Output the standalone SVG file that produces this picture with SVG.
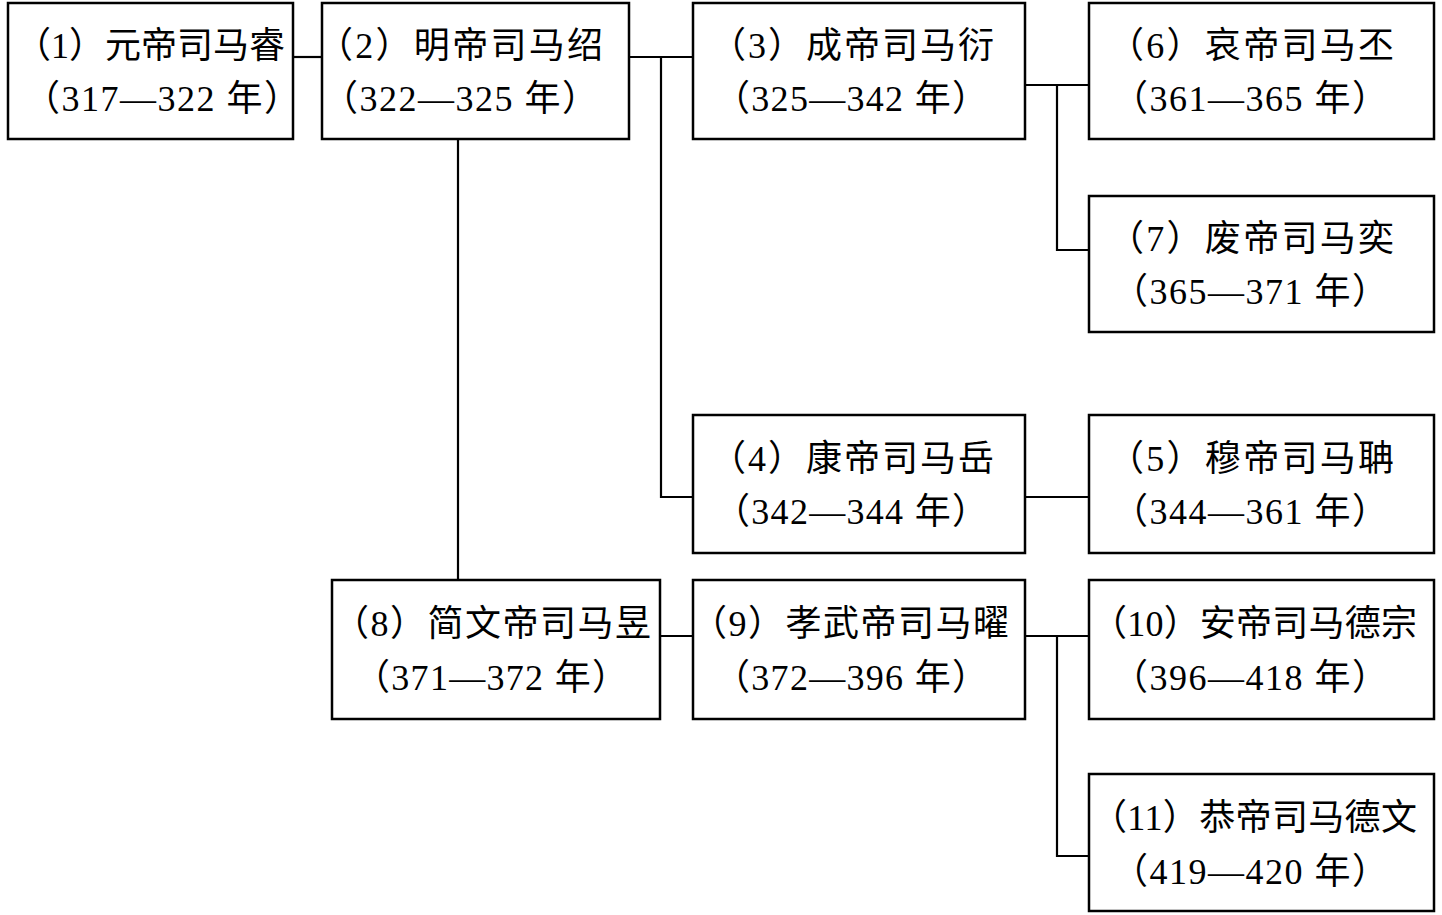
<svg xmlns="http://www.w3.org/2000/svg" width="1442" height="915" viewBox="0 0 1442 915">
<style>
.box{fill:#fff;stroke:#000;stroke-width:2.5}
.ln{fill:none;stroke:#000;stroke-width:2.2}
text{font-family:"Liberation Serif","Noto Sans CJK SC",serif;font-size:36px;fill:#000;text-anchor:middle}
</style>
<rect width="1442" height="915" fill="#fff"/>
<g id="connectors">
<path class="ln" d="M293 57H322"/>
<path class="ln" d="M629 57H693M661 57V497H693"/>
<path class="ln" d="M458 139V580"/>
<path class="ln" d="M1025 85H1089M1057 85V250H1089"/>
<path class="ln" d="M1025 497H1089"/>
<path class="ln" d="M660 636H693"/>
<path class="ln" d="M1025 636H1089M1057 636V856H1089"/>
</g>
<g id="n1"><rect class="box" x="8" y="3" width="285" height="136"/><text x="150" y="58" textLength="270" lengthAdjust="spacing">（1）元帝司马睿</text><text x="162" y="111" textLength="276" lengthAdjust="spacing">（317—322 年）</text></g>
<g id="n2"><rect class="box" x="322" y="3" width="307" height="136"/><text x="460" y="58" textLength="286" lengthAdjust="spacing">（2）明帝司马绍</text><text x="460" y="111" textLength="276" lengthAdjust="spacing">（322—325 年）</text></g>
<g id="n3"><rect class="box" x="693" y="3" width="332" height="136"/><text x="852" y="58" textLength="284" lengthAdjust="spacing">（3）成帝司马衍</text><text x="851" y="111" textLength="274" lengthAdjust="spacing">（325—342 年）</text></g>
<g id="n6"><rect class="box" x="1089" y="3" width="345" height="136"/><text x="1251" y="58" textLength="286" lengthAdjust="spacing">（6）哀帝司马丕</text><text x="1250" y="111" textLength="276" lengthAdjust="spacing">（361—365 年）</text></g>
<g id="n7"><rect class="box" x="1089" y="196" width="345" height="136"/><text x="1251" y="251" textLength="286" lengthAdjust="spacing">（7）废帝司马奕</text><text x="1250" y="304" textLength="276" lengthAdjust="spacing">（365—371 年）</text></g>
<g id="n4"><rect class="box" x="693" y="415" width="332" height="138"/><text x="852" y="471" textLength="284" lengthAdjust="spacing">（4）康帝司马岳</text><text x="851" y="524" textLength="274" lengthAdjust="spacing">（342—344 年）</text></g>
<g id="n5"><rect class="box" x="1089" y="415" width="345" height="138"/><text x="1251" y="471" textLength="286" lengthAdjust="spacing">（5）穆帝司马聃</text><text x="1250" y="524" textLength="276" lengthAdjust="spacing">（344—361 年）</text></g>
<g id="n8"><rect class="box" x="332" y="580" width="328" height="139"/><text x="492" y="636" textLength="318" lengthAdjust="spacing">（8）简文帝司马昱</text><text x="491" y="690" textLength="274" lengthAdjust="spacing">（371—372 年）</text></g>
<g id="n9"><rect class="box" x="693" y="580" width="332" height="139"/><text x="850" y="636" textLength="318" lengthAdjust="spacing">（9）孝武帝司马曜</text><text x="851" y="690" textLength="274" lengthAdjust="spacing">（372—396 年）</text></g>
<g id="n10"><rect class="box" x="1089" y="580" width="345" height="139"/><text x="1254" y="636" textLength="326" lengthAdjust="spacing">（10）安帝司马德宗</text><text x="1250" y="690" textLength="276" lengthAdjust="spacing">（396—418 年）</text></g>
<g id="n11"><rect class="box" x="1089" y="774" width="345" height="137"/><text x="1254" y="830" textLength="326" lengthAdjust="spacing">（11）恭帝司马德文</text><text x="1250" y="884" textLength="276" lengthAdjust="spacing">（419—420 年）</text></g>
</svg>
